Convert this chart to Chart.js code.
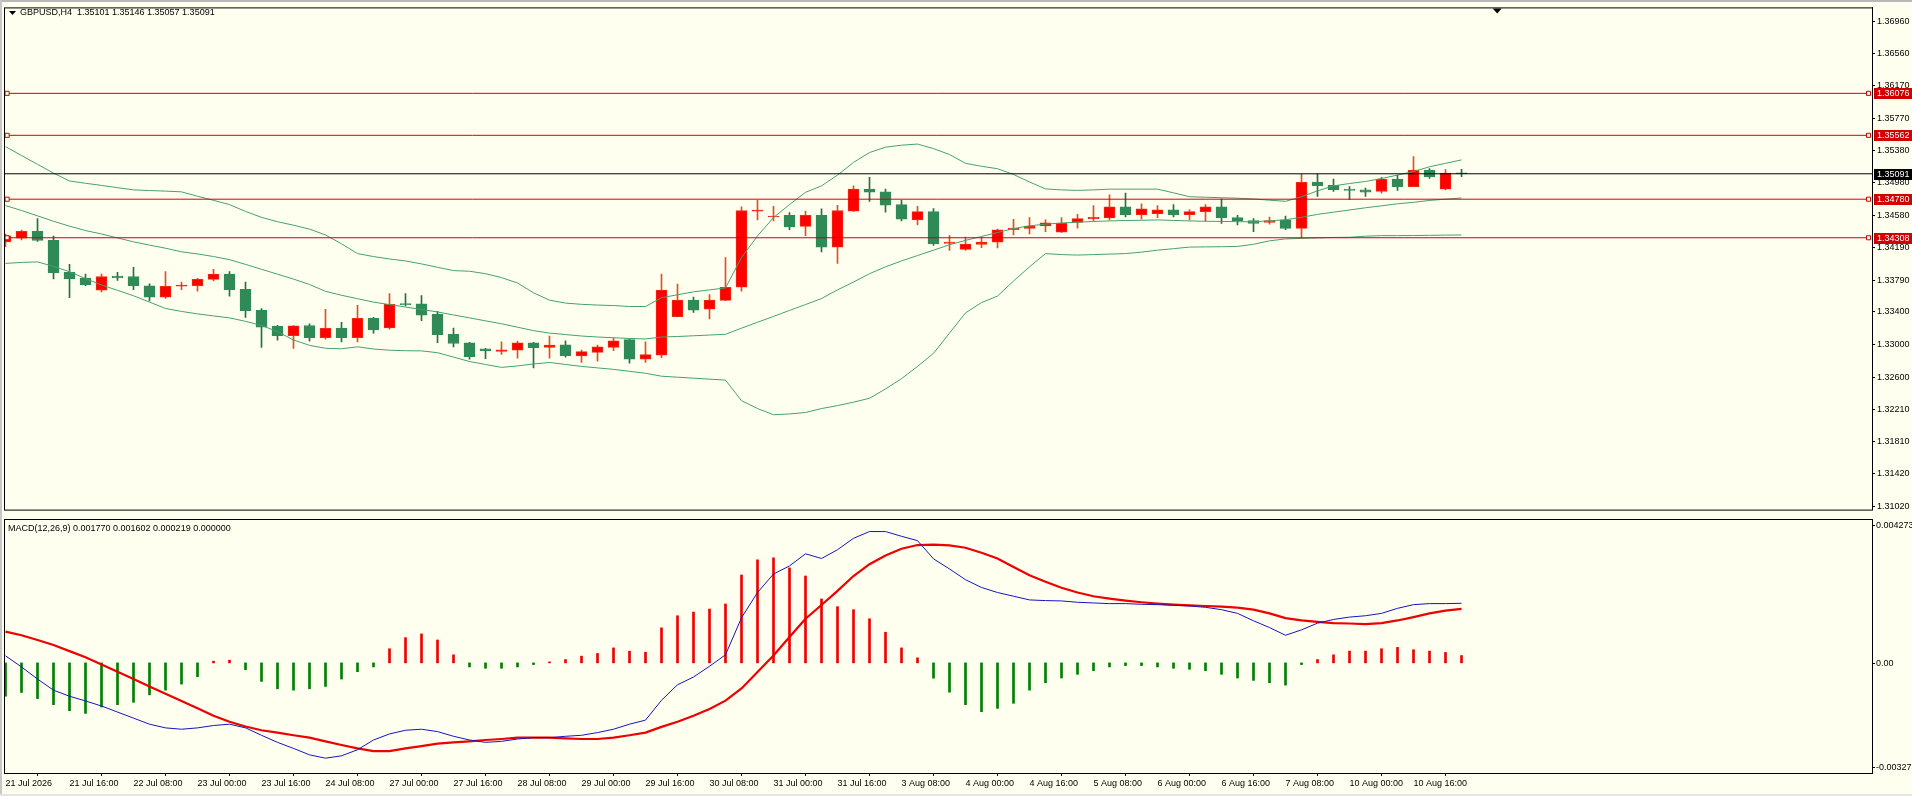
<!DOCTYPE html>
<html lang="en">
<head>
<meta charset="UTF-8">
<title>GBPUSD,H4</title>
<script src="https://cdn.jsdelivr.net/npm/chart.js"></script>
<style>
  html, body { margin: 0; padding: 0; background: #fffff0; overflow: hidden; }
  #wrap { position: relative; width: 1912px; height: 796px; }
  #wrap canvas { position: absolute; left: 0; }
  #main { top: 0; }
  #macd { top: 517px; }
  .edge-top { position: absolute; left: 0; top: 0; width: 1912px; height: 2px; background: #b8b8b8; }
  .edge-left { position: absolute; left: 0; top: 0; width: 2px; height: 796px; background: #c8c8c8; }
  .edge-bottom { position: absolute; left: 0; top: 794px; width: 1912px; height: 2px; background: #e4e4e4; }
</style>
</head>
<body>
<div id="wrap">
  <canvas id="main" width="1912" height="517"></canvas>
  <canvas id="macd" width="1912" height="279"></canvas>
  <div class="edge-top"></div>
  <div class="edge-left"></div>
  <div class="edge-bottom"></div>
</div>

<script>
// --- data (H4 bars, 21 Jul 2026 00:00 -> 11 Aug 04:00) ---
const opens = [
  1.34258, 1.34302, 1.34387, 1.34276, 1.33886, 1.33814, 1.33666, 1.33838, 1.33834, 1.33718,
  1.33580, 1.33714, 1.33720, 1.33798, 1.33862, 1.33678, 1.33418, 1.33225, 1.33109, 1.33234,
  1.33085, 1.33202, 1.33085, 1.33321, 1.33205, 1.33502, 1.33500, 1.33370, 1.33126, 1.33021,
  1.32949, 1.32917, 1.32933, 1.33021, 1.32965, 1.32997, 1.32860, 1.32905, 1.32965, 1.33061,
  1.32821, 1.32871, 1.33342, 1.33546, 1.33433, 1.33541, 1.33702, 1.34634, 1.34562, 1.34582,
  1.34447, 1.34582, 1.34194, 1.34634, 1.34903, 1.34871, 1.34714, 1.34526, 1.34627, 1.34238,
  1.34166, 1.34226, 1.34254, 1.34406, 1.34422, 1.34454, 1.34375, 1.34495, 1.34538, 1.34550,
  1.34687, 1.34586, 1.34603, 1.34651, 1.34591, 1.34627, 1.34687, 1.34555, 1.34519, 1.34495,
  1.34526, 1.34422, 1.34991, 1.34951, 1.34903, 1.34894, 1.34874, 1.35027, 1.34934, 1.35135,
  1.34903, 1.35101
];
const highs = [
  1.34354, 1.34402, 1.34543, 1.34327, 1.33982, 1.33862, 1.33862, 1.33886, 1.33946, 1.33745,
  1.33894, 1.33766, 1.33810, 1.33922, 1.33894, 1.33766, 1.33442, 1.33237, 1.33232, 1.33253,
  1.33433, 1.33273, 1.33481, 1.33333, 1.33625, 1.33625, 1.33601, 1.33406, 1.33201, 1.33027,
  1.32955, 1.33033, 1.33042, 1.33027, 1.33105, 1.33045, 1.32934, 1.32994, 1.33081, 1.33069,
  1.33033, 1.33862, 1.33742, 1.33582, 1.33613, 1.34066, 1.34687, 1.34766, 1.34694, 1.34615,
  1.34634, 1.34663, 1.34706, 1.34943, 1.35047, 1.34903, 1.34766, 1.34694, 1.34666, 1.34334,
  1.34315, 1.34315, 1.34414, 1.34534, 1.34555, 1.34526, 1.34555, 1.34594, 1.34702, 1.34834,
  1.34855, 1.34723, 1.34702, 1.34714, 1.34654, 1.34714, 1.34783, 1.34582, 1.34543, 1.34562,
  1.34574, 1.35083, 1.35087, 1.35027, 1.34934, 1.34915, 1.35047, 1.35075, 1.35303, 1.35155,
  1.35143, 1.35146
];
const lows = [
  1.34198, 1.34282, 1.34262, 1.33805, 1.33574, 1.33721, 1.33646, 1.33786, 1.33673, 1.33534,
  1.33565, 1.33673, 1.33654, 1.33781, 1.33594, 1.33333, 1.32965, 1.33054, 1.32953, 1.33042,
  1.33066, 1.33033, 1.33033, 1.33141, 1.33189, 1.33474, 1.33294, 1.33025, 1.32973, 1.32821,
  1.32829, 1.32881, 1.32833, 1.32713, 1.32833, 1.32845, 1.32781, 1.32797, 1.32925, 1.32773,
  1.32781, 1.32841, 1.33340, 1.33394, 1.33313, 1.33538, 1.33654, 1.34526, 1.34514, 1.34406,
  1.34334, 1.34134, 1.33994, 1.34630, 1.34754, 1.34622, 1.34514, 1.34466, 1.34214, 1.34154,
  1.34154, 1.34186, 1.34182, 1.34342, 1.34354, 1.34382, 1.34372, 1.34426, 1.34514, 1.34526,
  1.34562, 1.34534, 1.34555, 1.34562, 1.34526, 1.34510, 1.34483, 1.34466, 1.34382, 1.34474,
  1.34406, 1.34302, 1.34814, 1.34874, 1.34774, 1.34814, 1.34855, 1.34886, 1.34932, 1.35035,
  1.34894, 1.35057
];
const closes = [
  1.34330, 1.34387, 1.34274, 1.33882, 1.33805, 1.33733, 1.33834, 1.33817, 1.33721, 1.33582,
  1.33714, 1.33730, 1.33798, 1.33862, 1.33673, 1.33414, 1.33213, 1.33109, 1.33229, 1.33085,
  1.33198, 1.33085, 1.33321, 1.33181, 1.33493, 1.33490, 1.33361, 1.33121, 1.33013, 1.32853,
  1.32922, 1.32937, 1.33021, 1.32961, 1.32994, 1.32865, 1.32913, 1.32973, 1.33045, 1.32821,
  1.32877, 1.33666, 1.33546, 1.33421, 1.33546, 1.33702, 1.34642, 1.34646, 1.34574, 1.34442,
  1.34582, 1.34194, 1.34642, 1.34903, 1.34867, 1.34706, 1.34534, 1.34627, 1.34234, 1.34254,
  1.34230, 1.34254, 1.34406, 1.34426, 1.34450, 1.34490, 1.34486, 1.34543, 1.34558, 1.34687,
  1.34586, 1.34663, 1.34651, 1.34586, 1.34627, 1.34687, 1.34555, 1.34514, 1.34483, 1.34519,
  1.34422, 1.34987, 1.34946, 1.34898, 1.34886, 1.34867, 1.35027, 1.34934, 1.35135, 1.35054,
  1.35099, 1.35091
];

// Bollinger bands as drawn
const bbUpper = [
  1.35423, 1.35315, 1.35207, 1.35099, 1.35003, 1.34975, 1.34949, 1.34921, 1.34894, 1.34886,
  1.34879, 1.34870, 1.34816, 1.34766, 1.34714, 1.34630, 1.34558, 1.34504, 1.34462, 1.34414,
  1.34342, 1.34234, 1.34114, 1.34078, 1.34048, 1.34024, 1.33988, 1.33946, 1.33906, 1.33898,
  1.33868, 1.33820, 1.33754, 1.33634, 1.33544, 1.33508, 1.33493, 1.33484, 1.33478, 1.33466,
  1.33466, 1.33574, 1.33610, 1.33646, 1.33670, 1.33694, 1.34066, 1.34330, 1.34555, 1.34714,
  1.34864, 1.34943, 1.35075, 1.35231, 1.35351, 1.35417, 1.35441, 1.35455, 1.35399, 1.35327,
  1.35219, 1.35183, 1.35153, 1.35083, 1.34991, 1.34906, 1.34894, 1.34888, 1.34894, 1.34903,
  1.34903, 1.34903, 1.34903, 1.34858, 1.34810, 1.34804, 1.34798, 1.34792, 1.34783, 1.34768,
  1.34754, 1.34810, 1.34882, 1.34943, 1.34972, 1.34997, 1.35033, 1.35075, 1.35119, 1.35177,
  1.35219, 1.35261
];
const bbMiddle = [
  1.34702, 1.34642, 1.34576, 1.34510, 1.34450, 1.34396, 1.34354, 1.34306, 1.34258, 1.34218,
  1.34180, 1.34136, 1.34110, 1.34078, 1.34040, 1.33982, 1.33922, 1.33862, 1.33802, 1.33736,
  1.33652, 1.33604, 1.33562, 1.33520, 1.33490, 1.33460, 1.33430, 1.33400, 1.33363, 1.33327,
  1.33291, 1.33255, 1.33213, 1.33171, 1.33141, 1.33123, 1.33105, 1.33093, 1.33084, 1.33075,
  1.33069, 1.33093, 1.33099, 1.33108, 1.33117, 1.33126, 1.33201, 1.33273, 1.33345, 1.33418,
  1.33490, 1.33564, 1.33670, 1.33766, 1.33868, 1.33952, 1.34024, 1.34090, 1.34156, 1.34222,
  1.34276, 1.34324, 1.34372, 1.34420, 1.34454, 1.34474, 1.34489, 1.34498, 1.34507, 1.34514,
  1.34519, 1.34522, 1.34526, 1.34520, 1.34514, 1.34510, 1.34508, 1.34505, 1.34503, 1.34516,
  1.34528, 1.34558, 1.34594, 1.34621, 1.34648, 1.34675, 1.34699, 1.34724, 1.34742, 1.34765,
  1.34780, 1.34795
];
const bbLower = [
  1.33994, 1.34006, 1.34012, 1.33958, 1.33892, 1.33808, 1.33730, 1.33664, 1.33598, 1.33520,
  1.33442, 1.33406, 1.33376, 1.33351, 1.33327, 1.33285, 1.33234, 1.33159, 1.33057, 1.32991,
  1.32955, 1.32949, 1.32973, 1.32946, 1.32931, 1.32925, 1.32923, 1.32901, 1.32847, 1.32793,
  1.32757, 1.32721, 1.32739, 1.32763, 1.32781, 1.32757, 1.32733, 1.32715, 1.32697, 1.32673,
  1.32649, 1.32613, 1.32601, 1.32589, 1.32577, 1.32565, 1.32313, 1.32217, 1.32141, 1.32151,
  1.32169, 1.32217, 1.32253, 1.32295, 1.32343, 1.32457, 1.32583, 1.32733, 1.32893, 1.33141,
  1.33388, 1.33514, 1.33594, 1.33778, 1.33952, 1.34114, 1.34102, 1.34096, 1.34102, 1.34108,
  1.34114, 1.34132, 1.34156, 1.34174, 1.34194, 1.34196, 1.34198, 1.34202, 1.34228, 1.34270,
  1.34294, 1.34300, 1.34306, 1.34312, 1.34314, 1.34327, 1.34334, 1.34334, 1.34335, 1.34338,
  1.34340, 1.34342
];

// MACD(12,26,9) window
const macdHist = [
  -0.00099, -0.00088, -0.00106, -0.00124, -0.00142, -0.00150, -0.00131, -0.00124, -0.00117, -0.00095,
  -0.00081, -0.00063, -0.00041, 0.00005, 0.00008, -0.00020, -0.00055, -0.00077, -0.00081, -0.00077,
  -0.00070, -0.00048, -0.00026, -0.00012, 0.00042, 0.00075, 0.00086, 0.00068, 0.00024, -0.00012,
  -0.00016, -0.00016, -0.00012, -0.00005, 0.00003, 0.00010, 0.00020, 0.00028, 0.000445, 0.000347,
  0.000318, 0.00104, 0.00140, 0.00151, 0.00160, 0.00175, 0.00261, 0.00306, 0.00312, 0.00282,
  0.00258, 0.00190, 0.00167, 0.00158, 0.00131, 0.00091, 0.000445, 0.00015, -0.000455, -0.00087,
  -0.00124, -0.00145, -0.00135, -0.00120, -0.00081, -0.00059, -0.00045, -0.00034, -0.00023, -0.00012,
  -0.00008, -0.00008, -0.00012, -0.00016, -0.00019, -0.00023, -0.00034, -0.00045, -0.00052, -0.00059,
  -0.00066, -0.00005, 0.00010, 0.00024, 0.00035, 0.00035, 0.00042, 0.00046, 0.00039, 0.00035,
  0.00031, 0.000219
];
const macdMain = [
  0.00021, -0.00012, -0.00048, -0.00081, -0.00099, -0.00113, -0.00128, -0.00146, -0.00164, -0.00182,
  -0.00193, -0.00197, -0.00193, -0.00186, -0.00182, -0.00193, -0.00215, -0.00236, -0.00254, -0.00273,
  -0.00283, -0.00276, -0.00258, -0.00229, -0.00211, -0.00200, -0.00197, -0.00204, -0.00218, -0.00229,
  -0.00236, -0.00233, -0.00226, -0.00222, -0.00222, -0.00218, -0.00215, -0.00207, -0.00197, -0.00182,
  -0.00170, -0.00111, -0.00065, -0.00042, -0.00010, 0.00024, 0.00134, 0.00209, 0.00264, 0.00288,
  0.00324, 0.00310, 0.00336, 0.00370, 0.00390, 0.00390, 0.00376, 0.00363, 0.00309, 0.00279,
  0.00247, 0.00224, 0.00209, 0.00198, 0.00187, 0.00185, 0.00184, 0.00180, 0.00178, 0.00176,
  0.00176, 0.00174, 0.00173, 0.00171, 0.00169, 0.00165, 0.00158, 0.00147, 0.00125, 0.00105,
  0.00082, 0.00098, 0.00118, 0.00129, 0.00136, 0.00140, 0.00147, 0.00162, 0.00173, 0.00176,
  0.00176, 0.00177
];
const macdSignal = [
  0.00093, 0.00082, 0.00068, 0.00053, 0.00035, 0.00017, -0.00005, -0.00026, -0.00048, -0.00070,
  -0.00092, -0.00113, -0.00135, -0.00157, -0.00175, -0.00189, -0.00200, -0.00207, -0.00215, -0.00222,
  -0.00233, -0.00244, -0.00254, -0.00262, -0.00262, -0.00254, -0.00247, -0.00240, -0.00236, -0.00233,
  -0.00229, -0.00226, -0.00222, -0.00222, -0.00222, -0.00224, -0.00226, -0.00226, -0.00222, -0.00215,
  -0.00207, -0.00190, -0.00175, -0.00157, -0.00137, -0.00112, -0.00076, -0.00027, 0.00022, 0.00077,
  0.00131, 0.00172, 0.00214, 0.00258, 0.00293, 0.00319, 0.00339, 0.00350, 0.00351, 0.00349,
  0.00342, 0.00327, 0.00310, 0.00285, 0.00260, 0.00241, 0.00223, 0.00209, 0.00198, 0.00191,
  0.00185, 0.00180, 0.00176, 0.00173, 0.00171, 0.00169, 0.00167, 0.00164, 0.00158, 0.00147,
  0.00133, 0.00126, 0.00122, 0.00118, 0.00117, 0.00115, 0.00118, 0.00126, 0.00136, 0.00147,
  0.00155, 0.001602
];

// axis texts
const timeLabels = [
  '21 Jul 2026', '21 Jul 16:00', '22 Jul 08:00', '23 Jul 00:00', '23 Jul 16:00', '24 Jul 08:00',
  '27 Jul 00:00', '27 Jul 16:00', '28 Jul 08:00', '29 Jul 00:00', '29 Jul 16:00', '30 Jul 08:00',
  '31 Jul 00:00', '31 Jul 16:00', '3 Aug 08:00', '4 Aug 00:00', '4 Aug 16:00', '5 Aug 08:00',
  '6 Aug 00:00', '6 Aug 16:00', '7 Aug 08:00', '10 Aug 00:00', '10 Aug 16:00'
];
const labelStep = 4; // one time label every 4 bars
const priceTicks = [
  1.36960, 1.36560, 1.36170, 1.35770, 1.35380, 1.34980, 1.34580, 1.34190,
  1.33790, 1.33400, 1.33000, 1.32600, 1.32210, 1.31810, 1.31420, 1.31020
];
const macdTicks = [0.004273, 0, -0.00327];
const macdTickLabels = ['0.004273', '0.00', '-0.00327'];
const levels = [1.36076, 1.35562, 1.34780, 1.34308];
const bid = 1.35091;
const chartShiftBar = 93.2;

const symbolTitle = 'GBPUSD,H4  1.35101 1.35146 1.35057 1.35091';
const macdTitle = 'MACD(12,26,9) 0.001770 0.001602 0.000219 0.000000';

// --- look ---
const BG = '#fffff0';
const UP_FILL = '#ff0000', UP_EDGE = '#f02a10', UP_WICK = '#e0501e';
const DN_FILL = '#2e8b57', DN_EDGE = '#2e8b57', DN_WICK = '#256f45';
const BAND = 'rgb(70,160,112)';
const LEVEL = '#d20000';
const FONT = '"Liberation Sans", Arial, sans-serif';

// x range: 16 px per bar, first bar 1.5 px inside the frame
const xMin = -0.09375, xMax = 116.65625;

const idx = opens.map((_, i) => i);
const isUp = idx.map(i => closes[i] >= opens[i]);

function series(arr) { return arr.map((v, i) => ({ x: i, y: v })); }

const mainDecor = {
  id: 'mainDecor',
  afterDraw(chart) {
    const { ctx, chartArea: a, scales } = chart;
    ctx.save();
    ctx.strokeStyle = '#000';
    ctx.lineWidth = 1;
    ctx.strokeRect(a.left + 0.5, a.top + 0.5, a.right - a.left, a.bottom - a.top);

    ctx.fillStyle = '#000';
    ctx.beginPath();
    ctx.moveTo(9, 11); ctx.lineTo(16, 11); ctx.lineTo(12.5, 15); ctx.closePath();
    ctx.fill();
    ctx.font = '9px ' + FONT;
    ctx.textBaseline = 'middle';
    ctx.fillText(symbolTitle, 20, 13);

    const sx = scales.x.getPixelForValue(chartShiftBar);
    ctx.beginPath();
    ctx.moveTo(sx - 4, a.top + 1); ctx.lineTo(sx + 5, a.top + 1); ctx.lineTo(sx + 0.5, a.top + 6); ctx.closePath();
    ctx.fill();

    const box = (v, bg) => {
      const py = Math.round(scales.y.getPixelForValue(v));
      ctx.fillStyle = bg;
      ctx.fillRect(a.right + 2, py - 5, 40, 11);
      ctx.fillStyle = '#fff';
      ctx.fillText(v.toFixed(5), a.right + 5, py + 0.5);
    };
    levels.forEach(v => box(v, LEVEL));
    box(bid, '#000');
    ctx.restore();
  }
};

new Chart(document.getElementById('main'), {
  type: 'bar',
  data: {
    datasets: [
      {
        label: 'wick', order: 6, grouped: false,
        data: idx.map(i => ({ x: i, y: [lows[i], highs[i]] })),
        backgroundColor: idx.map(i => isUp[i] ? UP_WICK : DN_WICK),
        borderWidth: 0, barThickness: 1
      },
      {
        label: 'body', order: 5, grouped: false,
        data: idx.map(i => ({ x: i, y: [opens[i], closes[i]] })),
        backgroundColor: idx.map(i => isUp[i] ? UP_FILL : DN_FILL),
        borderColor: idx.map(i => isUp[i] ? UP_EDGE : DN_EDGE),
        borderWidth: 1, borderSkipped: false, barThickness: 11, minBarLength: 1
      },
      { type: 'line', label: 'upper', order: 4, data: series(bbUpper), borderColor: BAND, borderWidth: 1, pointRadius: 0 },
      { type: 'line', label: 'middle', order: 4, data: series(bbMiddle), borderColor: BAND, borderWidth: 1, pointRadius: 0 },
      { type: 'line', label: 'lower', order: 4, data: series(bbLower), borderColor: BAND, borderWidth: 1, pointRadius: 0 },
      ...levels.map(v => ({
        type: 'line', label: 'level', order: 2,
        data: [{ x: 0.1, y: v }, { x: 116.44, y: v }],
        borderColor: LEVEL, borderWidth: 1,
        pointStyle: 'rect', pointRadius: 2.9, pointBorderWidth: 1,
        pointBorderColor: LEVEL, pointBackgroundColor: BG
      })),
      {
        type: 'line', label: 'bid', order: 1,
        data: [{ x: xMin, y: bid }, { x: xMax, y: bid }],
        borderColor: '#000', borderWidth: 1, pointRadius: 0
      }
    ]
  },
  options: {
    responsive: false, animation: false, devicePixelRatio: 1, events: [],
    layout: { autoPadding: false, padding: { left: 4, top: 4, right: 0, bottom: 1 } },
    plugins: { legend: { display: false }, tooltip: { enabled: false } },
    scales: {
      x: { type: 'linear', min: xMin, max: xMax, offset: false, display: false },
      y: {
        position: 'right', min: 1.30980, max: 1.37128,
        afterFit: s => { s.width = 40; },
        afterBuildTicks: s => { s.ticks = priceTicks.map(v => ({ value: v })); },
        ticks: {
          autoSkip: false, padding: 2, color: '#000',
          font: { family: FONT, size: 9 },
          callback: v => Number(v).toFixed(5)
        },
        grid: { drawOnChartArea: false, drawTicks: true, tickLength: 3, color: '#000' },
        border: { display: true, color: '#000' }
      }
    }
  },
  plugins: [mainDecor]
});

const macdDecor = {
  id: 'macdDecor',
  afterDraw(chart) {
    const { ctx, chartArea: a, scales } = chart;
    ctx.save();
    ctx.strokeStyle = '#000';
    ctx.lineWidth = 1;
    ctx.strokeRect(a.left + 0.5, a.top + 0.5, a.right - a.left, a.bottom - a.top);
    ctx.fillStyle = '#000';
    ctx.font = '9px ' + FONT;
    ctx.textBaseline = 'middle';
    ctx.fillText(macdTitle, 8, a.top + 10);
    macdTicks.forEach((v, k) => {
      let py = Math.round(scales.y.getPixelForValue(v));
      py = Math.min(Math.max(py, a.top + 6), a.bottom - 6);
      ctx.fillRect(a.right, py, 3, 1);
      ctx.fillText(macdTickLabels[k], a.right + 4, py + 0.5);
    });
    ctx.restore();
  }
};

new Chart(document.getElementById('macd'), {
  type: 'bar',
  data: {
    datasets: [
      {
        label: 'hist', order: 3, grouped: false,
        data: series(macdHist),
        backgroundColor: macdHist.map(v => v >= 0 ? '#ee0000' : '#008000'),
        borderWidth: 0, barThickness: 2
      },
      { type: 'line', label: 'signal', order: 2, data: series(macdSignal), borderColor: '#ee0000', borderWidth: 2.2, pointRadius: 0 },
      { type: 'line', label: 'main', order: 1, data: series(macdMain), borderColor: '#1414c0', borderWidth: 1, pointRadius: 0 }
    ]
  },
  options: {
    responsive: false, animation: false, devicePixelRatio: 1, events: [],
    layout: { autoPadding: false, padding: { left: 4, top: 2, right: 0, bottom: 0 } },
    plugins: { legend: { display: false }, tooltip: { enabled: false } },
    scales: {
      x: {
        type: 'linear', min: xMin, max: xMax, offset: false, position: 'bottom',
        afterFit: s => { s.height = 23; },
        afterBuildTicks: s => { s.ticks = timeLabels.map((t, k) => ({ value: k * labelStep })); },
        ticks: {
          autoSkip: false, maxRotation: 0, align: 'start', padding: 2, color: '#000',
          font: { family: FONT, size: 9 },
          callback: (v, k) => timeLabels[k]
        },
        grid: { drawOnChartArea: false, drawTicks: true, tickLength: 3, color: '#000' },
        border: { display: true, color: '#000' }
      },
      y: {
        position: 'right', min: -0.00327, max: 0.004273,
        afterFit: s => { s.width = 40; },
        ticks: { display: false },
        grid: { display: false },
        border: { display: true, color: '#000' }
      }
    }
  },
  plugins: [macdDecor]
});
</script>
</body>
</html>
